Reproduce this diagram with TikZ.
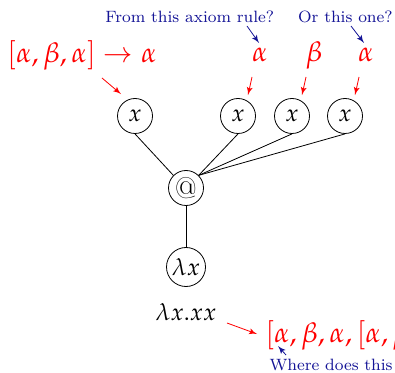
\documentclass[tikz,border=0pt]{standalone}
\usepackage{mathpazo}
\usetikzlibrary{arrows}
\definecolor{navy}{RGB}{20,20,150}
\tikzstyle{var} = [draw, circle, minimum size=17.5pt, inner sep=0pt]
\tikzstyle{typ} = [red, inner sep=0pt, anchor=base, font=\fontsize{14}{16}\selectfont]
\tikzstyle{note} = [navy, inner sep=0pt, anchor=base west, font=\fontsize{8.2}{10}\selectfont]
\tikzstyle{redarr} = [->, red, thin]
\tikzstyle{bluearr} = [->, navy, thin]

\begin{document}
\begin{tikzpicture}[x=0.5pt, y=-0.5pt, >=latex', font=\fontsize{12}{14}\selectfont]
    \useasboundingbox (0,0) rectangle (395,373);
    \clip (0,0) rectangle (395,373);
    % the term tree
    \node [var] (x1) at (135,116) {$x$};
    \node [var] (x2) at (238,116) {$x$};
    \node [var] (x3) at (292,116) {$x$};
    \node [var] (x4) at (345,116) {$x$};
    \node [var, font=\fontsize{15}{17}\selectfont] (app) at (186,188) {@};
    \node [var, minimum size=19.5pt] (lam) at (186,267) {$\lambda x$};
    \node [inner sep=0pt, anchor=base] (term) at (186,320) {$\lambda x.xx$};

    \draw (x1.south) -- (app.north west);
    \draw (x2.south) -- (app.north east);
    \draw (x3.south) -- (app.north east);
    \draw (x4.south) -- (app.north east);
    \draw (app) -- (lam);

    % types on top
    \node [typ, anchor=base west] (rule) at (7,63) {$[\alpha,\beta,\alpha]\rightarrow\alpha$};
    \node [typ] (a1) at (260,62) {$\alpha$};
    \node [typ] (b1) at (314,62) {$\beta$};
    \node [typ] (a2) at (366,62) {$\alpha$};
    \node [typ, anchor=base west] (ctx) at (265,342) {$[\alpha,\beta,\alpha,[\alpha,\beta$};

    \coordinate (r0) at (102,78);
    \coordinate (r1) at (252,77);
    \coordinate (r2) at (306,77);
    \coordinate (r3) at (359,77);
    \coordinate (r4) at (227,323);
    \draw [redarr] (r0) -- ([shift={(-14,-4)}]x1.north);
    \draw [redarr] (r1) -- ([shift={(10,-3)}]x2.north);
    \draw [redarr] (r2) -- ([shift={(10,-3)}]x3.north);
    \draw [redarr] (r3) -- ([shift={(10,-3)}]x4.north);
    \draw [redarr] (r4) -- ([shift={(-8,-8)}]ctx.base west);

    % the questions
    \node [note] (qfrom) at (105,23) {From this axiom rule?};
    \node [note, anchor=base east] (qor) at (393,23) {Or this one?};
    \node [note, anchor=base east] (qwhere) at (393,370) {Where does this};

    \coordinate (q1) at (247,26);
    \coordinate (q2) at (351,26);
    \coordinate (q3) at (286,355);
    \draw [bluearr] (q1) -- ([shift={(-1,-19)}]a1.base);
    \draw [bluearr] (q2) -- ([shift={(-2,-19)}]a2.base);
    \draw [bluearr] (q3) -- ([shift={(13,4)}]ctx.base west);
\end{tikzpicture}
\end{document}
